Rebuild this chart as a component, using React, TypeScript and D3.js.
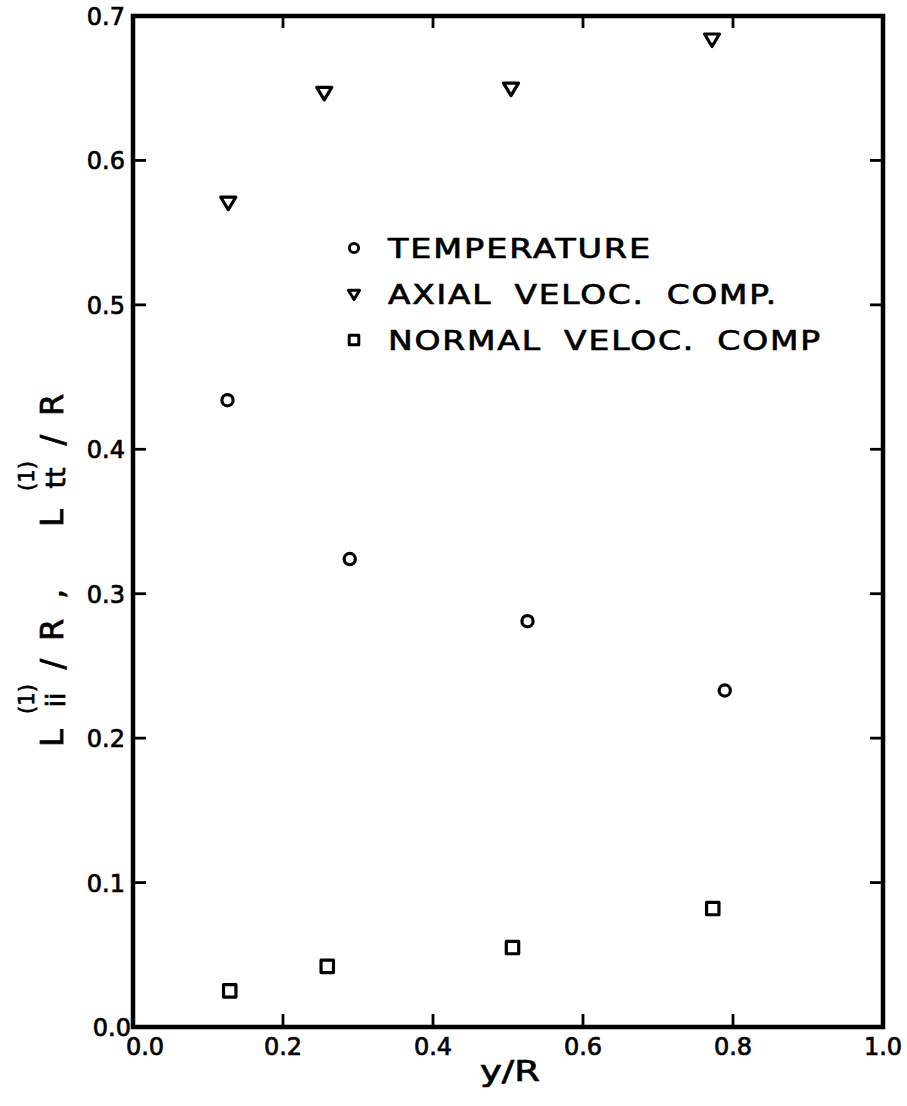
import React from 'react'
import * as d3 from 'd3'

const W = 907
const H = 1106
const FONT = '"DejaVu Sans", "Liberation Sans", Arial, sans-serif'

// data
const tempX = [0.126, 0.289, 0.526, 0.789]
const tempY = [0.434, 0.324, 0.281, 0.233]
const axialX = [0.127, 0.255, 0.504, 0.772]
const axialY = [0.571, 0.647, 0.650, 0.684]
const normalX = [0.129, 0.259, 0.506, 0.773]
const normalY = [0.025, 0.042, 0.055, 0.082]

const xTicks = [0, 0.2, 0.4, 0.6, 0.8, 1.0]
const xTickLabels = ['0.0', '0.2', '0.4', '0.6', '0.8', '1.0']
const yTicks = [0, 0.1, 0.2, 0.3, 0.4, 0.5, 0.6, 0.7]
const yTickLabels = ['0.0', '0.1', '0.2', '0.3', '0.4', '0.5', '0.6', '0.7']

const legendLabels = ['TEMPERATURE', 'AXIAL VELOC. COMP.', 'NORMAL VELOC. COMP']
const legendWidths = [264, 390, 434]

const m = { left: 133, right: 883, top: 16, bottom: 1027 }

const x = d3.scaleLinear().domain([0, 1]).range([m.left, m.right])
const y = d3.scaleLinear().domain([0, 0.7]).range([m.bottom, m.top])

const tri = (s: number) => `M${-s},${-s * 0.68} L${s},${-s * 0.68} L0,${s * 0.98} Z`
const sq = (s: number) => `M${-s},${-s} H${s} V${s} H${-s} Z`

function Marker({ kind, cx, cy, big = true }: { kind: string; cx: number; cy: number; big?: boolean }) {
  const sw = big ? 3.2 : 3
  if (kind === 'circle')
    return <circle cx={cx} cy={cy} r={big ? 5.6 : 4.6} fill="none" stroke="#000" strokeWidth={sw} />
  if (kind === 'tri')
    return <path d={tri(big ? 7.5 : 5.6)} transform={`translate(${cx},${cy})`} fill="none" stroke="#000" strokeWidth={sw} strokeLinejoin="round" />
  return <path d={sq(big ? 6.2 : 4.8)} transform={`translate(${cx},${cy})`} fill="none" stroke="#000" strokeWidth={sw} strokeLinejoin="round" />
}

// pieces of the rotated y label: [text, screen y centre, font size, baseline x]
const yLabelParts: [string, number, number, number][] = [
  ['L', 738, 32, 63],
  ['ii', 700, 27, 65],
  ['(1)', 699, 21, 34],
  ['/', 664, 32, 63],
  ['R', 630, 32, 63],
  [',', 594, 32, 63],
  ['L', 518, 32, 63],
  ['tt', 478, 27, 65],
  ['(1)', 476, 21, 34],
  ['/', 440, 32, 63],
  ['R', 405, 32, 63],
]

const txt = { stroke: '#000', strokeWidth: 0.7, fill: '#000' }

export default function App() {
  const series = [
    { kind: 'circle', xs: tempX, ys: tempY },
    { kind: 'tri', xs: axialX, ys: axialY },
    { kind: 'sq', xs: normalX, ys: normalY },
  ]
  const legendY = [248, 294, 340]
  const legendKinds = ['circle', 'tri', 'sq']

  return (
    <svg width={W} height={H} style={{ position: 'absolute', left: 0, top: 0, background: '#fff' }} fontFamily={FONT}>
      <rect x={0} y={0} width={W} height={H} fill="#fff" />

      {/* ticks, inward on all four sides */}
      {xTicks.slice(1, -1).map(t => (
        <g key={'xt' + t} stroke="#000" strokeWidth={2.8}>
          <line x1={x(t)} x2={x(t)} y1={m.bottom} y2={m.bottom - 13} />
          <line x1={x(t)} x2={x(t)} y1={m.top} y2={m.top + 12} />
        </g>
      ))}
      {yTicks.slice(1, -1).map(t => (
        <g key={'yt' + t} stroke="#000" strokeWidth={2.8}>
          <line x1={m.left} x2={m.left + 13} y1={y(t)} y2={y(t)} />
          <line x1={m.right} x2={m.right - 13} y1={y(t)} y2={y(t)} />
        </g>
      ))}

      {/* frame */}
      <rect x={m.left} y={m.top} width={m.right - m.left} height={m.bottom - m.top}
        fill="none" stroke="#000" strokeWidth={4.5} />

      {/* tick labels */}
      {yTicks.map((t, i) => (
        <text key={'yl' + t} x={i === 0 ? 131 : 125} y={y(t) + 9} textAnchor="end" fontSize={24} {...txt}>
          {yTickLabels[i]}
        </text>
      ))}
      {xTicks.map((t, i) => (
        <text key={'xl' + t} x={i === 0 ? x(t) + 12 : x(t)} y={1055} textAnchor="middle" fontSize={24} {...txt}>
          {xTickLabels[i]}
        </text>
      ))}

      {/* axis titles */}
      <text x={480} y={1081} fontSize={29} textLength={60} lengthAdjust="spacingAndGlyphs" {...txt}>y/R</text>
      {yLabelParts.map(([s, cy, fs, bx], i) => (
        <text key={'yp' + i} transform={`translate(${bx},${cy}) rotate(-90)`} textAnchor="middle" fontSize={fs} {...txt}>
          {s}
        </text>
      ))}

      {/* data */}
      {series.map(s =>
        s.xs.map((v, i) => <Marker key={s.kind + i} kind={s.kind} cx={x(v)} cy={y(s.ys[i])} />)
      )}

      {/* legend */}
      {legendLabels.map((l, i) => (
        <g key={l}>
          <Marker kind={legendKinds[i]} cx={354} cy={legendY[i]} big={false} />
          <text x={388} y={legendY[i] + 10} fontSize={27} letterSpacing={1.5} wordSpacing={8}
            textLength={legendWidths[i]} lengthAdjust="spacingAndGlyphs" {...txt}>{l}</text>
        </g>
      ))}
    </svg>
  )
}
